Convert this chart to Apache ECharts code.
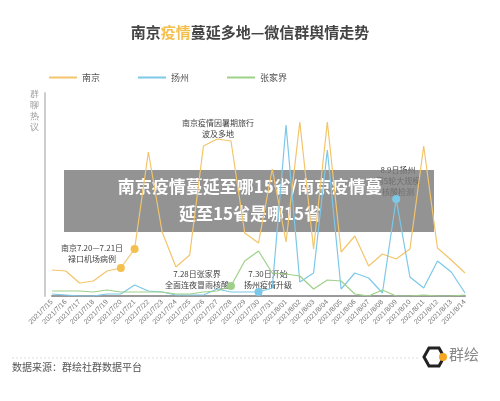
<!DOCTYPE html>
<html>
<head>
<meta charset="utf-8">
<script src="https://cdn.jsdelivr.net/npm/echarts@6/dist/echarts.min.js"></script>
<style>
  html, body { margin: 0; padding: 0; background: #fff; }
  #chart { width: 500px; height: 401px; }
</style>
</head>
<body>
<div id="chart"></div>
<script>
// 日期
const dates = ['2021/7/15','2021/7/16','2021/7/17','2021/7/18','2021/7/19','2021/7/20','2021/7/21','2021/7/22','2021/7/23','2021/7/24','2021/7/25','2021/7/26','2021/7/27','2021/7/28','2021/7/29','2021/7/30','2021/7/31','2021/8/01','2021/8/02','2021/8/03','2021/8/04','2021/8/05','2021/8/06','2021/8/07','2021/8/08','2021/8/09','2021/8/10','2021/8/11','2021/8/12','2021/8/13','2021/8/14']
// 群聊热议（估读）
const nanjing = [26,25,13,15,25,28,47,144,64,29,41,150,157,155,63,53,127,54,174,47,174,44,60,30,42,37,47,150,48,36,23]
const yangzhou = [2,1,0,0,2,2,11,5,4,1,1,1,7,4,4,4,8,171,14,23,146,7,23,18,3,97,19,8,35,24,3]
const zhangjiajie = [5,5,5,4,6,4,4,4,4,2,2,4,5,10,35,45,23,22,20,7,16,15,2,0,6,0,0,1,0,0,1]

// 有标注的点
const nanjingDots = [5, 6]
const yangzhouDots = [15, 25]
const zhangjiajieDots = [13]

const chart = echarts.init(document.getElementById('chart'))

const withDots = (arr, idxs, color) => arr.map((v, i) => idxs.includes(i)
  ? { value: v, symbol: 'circle', symbolSize: 8, itemStyle: { color } }
  : v)

const note = (x, y, text) => ({
  type: 'text', x, y,
  style: { text, fill: '#444', font: '8px "Noto Sans CJK SC"', textAlign: 'center', lineHeight: 11 }
})

chart.setOption({
  animation: false,
  title: {
    text: '{a|南京}{b|疫情}{a|蔓延多地—微信群舆情走势}',
    left: 'center', top: 20,
    textStyle: {
      rich: {
        a: { fontSize: 15, fontWeight: 'bold', color: '#444', fontFamily: 'Noto Sans CJK SC' },
        b: { fontSize: 15, fontWeight: 'bold', color: '#f3c04f', fontFamily: 'Noto Sans CJK SC' }
      }
    }
  },
  legend: {
    top: 68, left: 44, itemGap: 38, itemWidth: 28, itemHeight: 2, icon: 'rect',
    textStyle: { fontSize: 9, color: '#555', fontFamily: 'Noto Sans CJK SC' },
    data: ['南京', '扬州', '张家界']
  },
  grid: { left: 52, right: 35, top: 93, bottom: 105 },
  xAxis: {
    type: 'category', data: dates, boundaryGap: false,
    axisLine: { lineStyle: { color: '#999', width: 2 } },
    axisTick: { show: false },
    axisLabel: { rotate: 45, fontSize: 7, color: '#777', interval: 0, margin: 5 }
  },
  yAxis: {
    type: 'value', min: 0, max: 203, offset: 7,
    name: '群\n聊\n热\n议', nameLocation: 'end', nameGap: -40,
    nameTextStyle: { color: '#999', fontSize: 9, align: 'right', padding: [0, 6, 0, 0], lineHeight: 11 },
    axisLine: { show: true, lineStyle: { color: '#ccc', width: 2 } },
    axisTick: { show: false }, axisLabel: { show: false }, splitLine: { show: false }
  },
  series: [
    { name: '南京', type: 'line', data: withDots(nanjing, nanjingDots, '#f3c04f'),
      symbol: 'none', lineStyle: { color: '#f3c56a', width: 1.2 }, itemStyle: { color: '#f3c56a' } },
    { name: '扬州', type: 'line', data: withDots(yangzhou, yangzhouDots, '#7cc8e8'),
      symbol: 'none', lineStyle: { color: '#7cc8e8', width: 1.2 }, itemStyle: { color: '#7cc8e8' } },
    { name: '张家界', type: 'line', data: withDots(zhangjiajie, zhangjiajieDots, '#9ed08a'),
      symbol: 'none', lineStyle: { color: '#9ed08a', width: 1.2 }, itemStyle: { color: '#9ed08a' } }
  ],
  graphic: [
    note(218, 117, '南京疫情因暑期旅行\n波及多地'),
    note(92, 242, '南京7.20—7.21日\n禄口机场病例'),
    note(197, 268, '7.28日张家界\n全面连夜冒雨核酸'),
    note(268, 268, '7.30日开始\n扬州疫情升级'),
    note(398, 164, '8.9日扬州\n第5轮大规模\n核酸检测'),
    { type: 'rect', shape: { x: 64, y: 170, width: 370, height: 62 }, style: { fill: 'rgba(120,120,120,0.8)' } },
    { type: 'text', x: 250, y: 173, style: { text: '南京疫情蔓延至哪15省/南京疫情蔓\n延至15省是哪15省', fill: '#fff', font: 'bold 17px "Noto Sans CJK SC"', textAlign: 'center', lineHeight: 27 } },
    { type: 'line', shape: { x1: 12, y1: 358, x2: 418, y2: 358 }, style: { stroke: '#ddd', lineDash: [2, 2] } },
    { type: 'text', left: 12, top: 362, style: { text: '数据来源：群绘社群数据平台', fill: '#555', font: '10px "Noto Sans CJK SC"' } },
    { type: 'polygon', shape: { points: [[424,357],[429,348],[439,348],[444,357],[439,366],[429,366]] }, style: { fill: 'none', stroke: '#222', lineWidth: 3 } },
    { type: 'circle', shape: { cx: 443, cy: 357, r: 4 }, style: { fill: '#f5a623' } },
    { type: 'text', left: 449, top: 347, style: { text: '群绘', fill: '#888', font: '15px "Noto Sans CJK SC"' } }
  ]
})
</script>
</body>
</html>
